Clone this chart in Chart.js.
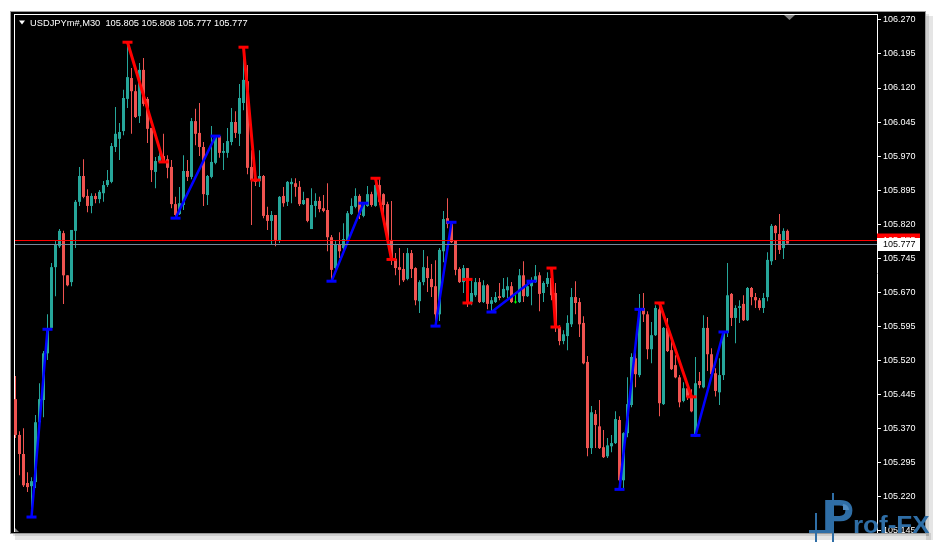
<!DOCTYPE html>
<html><head><meta charset="utf-8">
<script src="https://cdn.jsdelivr.net/npm/chart.js@4.4.1/dist/chart.umd.min.js"></script>
<style>html,body{margin:0;padding:0;background:#fff;overflow:hidden}canvas{display:block}</style>
</head><body>
<canvas id="c" width="936" height="543"></canvas>
<script>
const symbolLabel = 'USDJPYm#,M30';
const headerOHLC = [105.805, 105.808, 105.777, 105.777];

const opens = [105.434,105.355,105.313,105.249,105.242,105.251,105.383,105.432,105.535,105.591,
105.725,105.771,105.800,105.707,105.692,105.805,105.869,105.926,105.882,105.860,
105.882,105.875,105.888,105.906,105.913,105.990,106.008,106.025,106.096,106.142,
106.113,106.058,106.160,106.096,106.032,105.935,105.957,105.970,105.963,105.946,
105.864,105.842,105.862,105.937,105.924,106.047,106.021,105.990,105.884,105.924,
105.955,106.014,105.977,105.977,106.001,106.045,106.019,106.087,106.135,105.946,
105.919,105.915,105.926,105.840,105.827,105.840,105.783,105.882,105.869,105.908,
105.910,105.902,105.864,105.877,105.809,105.860,105.871,105.855,105.851,105.791,
105.723,105.774,105.767,105.783,105.842,105.858,105.882,105.838,105.860,105.886,
105.860,105.906,105.886,105.864,105.785,105.743,105.725,105.721,105.699,105.756,
105.723,105.650,105.692,105.723,105.699,105.683,105.621,105.760,105.833,105.820,
105.783,105.721,105.692,105.723,105.648,105.663,105.692,105.648,105.685,105.644,
105.648,105.661,105.659,105.674,105.683,105.647,105.648,105.707,105.661,105.683,
105.692,105.707,105.668,105.688,105.701,105.668,105.593,105.562,105.573,105.599,
105.659,105.648,105.602,105.516,105.326,105.401,105.374,105.328,105.308,105.330,
105.337,105.388,105.255,105.359,105.421,105.524,105.487,105.635,105.621,105.544,
105.575,105.632,105.423,105.591,105.542,105.509,105.482,105.430,105.458,105.440,
105.352,105.474,105.460,105.591,105.533,105.491,105.449,105.487,105.580,105.666,
105.613,105.635,105.644,105.608,105.679,105.659,105.652,105.635,105.659,105.738,
105.816,105.798,105.767,105.805];
const highs = [105.485,105.363,105.370,105.273,105.262,105.399,105.469,105.540,105.621,105.734,
105.785,105.809,105.805,105.707,105.807,105.873,105.946,105.963,105.897,105.888,
105.888,105.895,105.915,105.939,105.999,106.078,106.043,106.116,106.221,106.164,
106.127,106.175,106.186,106.100,106.032,105.968,105.988,106.019,105.972,105.961,
105.880,105.902,105.972,105.961,106.054,106.074,106.087,106.001,105.928,106.036,
106.016,106.014,105.999,106.032,106.076,106.069,106.129,106.210,106.171,105.983,
105.928,105.983,105.928,105.858,105.849,105.840,105.882,105.902,105.915,105.921,
105.921,105.915,105.891,105.877,105.899,105.888,105.880,105.884,105.910,105.796,
105.783,105.802,105.822,105.849,105.877,105.899,105.886,105.866,105.904,105.891,
105.921,105.919,105.888,105.869,105.871,105.756,105.767,105.756,105.767,105.763,
105.725,105.696,105.763,105.749,105.732,105.740,105.767,105.849,105.877,105.824,
105.785,105.725,105.730,105.723,105.696,105.701,105.701,105.696,105.688,105.659,
105.670,105.690,105.701,105.703,105.692,105.670,105.721,105.738,105.692,105.703,
105.730,105.714,105.694,105.714,105.723,105.690,105.597,105.586,105.619,105.679,
105.694,105.657,105.617,105.529,105.419,105.410,105.432,105.366,105.348,105.355,
105.407,105.396,105.361,105.482,105.535,105.538,105.666,105.668,105.628,105.604,
105.641,105.646,105.593,105.613,105.575,105.531,105.487,105.471,105.471,105.456,
105.527,105.494,105.619,105.615,105.546,105.502,105.524,105.582,105.734,105.668,
105.641,105.652,105.663,105.681,105.681,105.668,105.657,105.668,105.758,105.820,
105.818,105.842,105.811,105.808];
const lows = [105.348,105.266,105.240,105.229,105.174,105.238,105.379,105.394,105.520,105.588,
105.661,105.767,105.644,105.683,105.683,105.767,105.860,105.877,105.846,105.844,
105.866,105.866,105.869,105.902,105.910,105.979,105.961,106.016,106.076,106.019,
106.054,106.043,106.080,105.999,105.913,105.899,105.955,105.955,105.921,105.855,
105.833,105.840,105.851,105.915,105.919,105.994,105.970,105.860,105.862,105.921,
105.952,105.966,105.939,105.966,105.994,106.010,105.992,106.071,105.930,105.818,
105.904,105.902,105.833,105.807,105.776,105.771,105.778,105.858,105.860,105.866,
105.880,105.860,105.862,105.824,105.809,105.835,105.846,105.846,105.760,105.694,
105.716,105.745,105.763,105.778,105.840,105.855,105.831,105.835,105.858,105.858,
105.858,105.862,105.840,105.774,105.730,105.707,105.685,105.692,105.696,105.701,
105.641,105.624,105.685,105.670,105.659,105.595,105.606,105.736,105.811,105.778,
105.707,105.690,105.668,105.637,105.641,105.659,105.646,105.646,105.632,105.626,
105.646,105.652,105.657,105.657,105.646,105.645,105.646,105.648,105.659,105.641,
105.690,105.628,105.648,105.681,105.652,105.582,105.553,105.555,105.542,105.593,
105.621,105.571,105.511,105.308,105.313,105.326,105.324,105.304,105.304,105.317,
105.335,105.235,105.238,105.350,105.416,105.460,105.482,105.604,105.522,105.513,
105.573,105.396,105.421,105.538,105.498,105.480,105.416,105.427,105.432,105.405,
105.352,105.458,105.458,105.496,105.487,105.440,105.421,105.476,105.571,105.595,
105.557,105.602,105.606,105.606,105.641,105.635,105.630,105.624,105.650,105.730,
105.741,105.754,105.743,105.777];
const closes = [105.355,105.313,105.244,105.240,105.253,105.383,105.434,105.535,105.588,105.725,
105.774,105.805,105.707,105.685,105.807,105.869,105.926,105.880,105.860,105.882,
105.875,105.891,105.906,105.917,105.992,106.019,106.023,106.098,106.144,106.113,
106.056,106.160,106.085,106.030,105.939,105.959,105.970,105.957,105.944,105.864,
105.840,105.866,105.937,105.924,106.047,106.019,105.990,105.886,105.926,105.957,
106.012,105.977,105.981,106.003,106.045,106.021,106.098,106.138,105.944,105.917,
105.913,105.926,105.838,105.827,105.840,105.785,105.880,105.866,105.913,105.913,
105.902,105.864,105.873,105.827,105.862,105.871,105.853,105.849,105.791,105.719,
105.774,105.760,105.787,105.844,105.860,105.882,105.840,105.864,105.886,105.862,
105.906,105.869,105.862,105.785,105.743,105.723,105.719,105.696,105.756,105.721,
105.652,105.692,105.725,105.701,105.681,105.621,105.763,105.831,105.820,105.780,
105.719,105.692,105.723,105.646,105.668,105.692,105.648,105.685,105.644,105.652,
105.659,105.657,105.677,105.683,105.648,105.647,105.707,105.661,105.683,105.694,
105.705,105.666,105.690,105.701,105.663,105.593,105.562,105.577,105.602,105.659,
105.646,105.599,105.513,105.326,105.405,105.377,105.326,105.306,105.332,105.337,
105.390,105.255,105.359,105.423,105.527,105.489,105.632,105.621,105.544,105.575,
105.635,105.425,105.591,105.540,105.500,105.482,105.427,105.458,105.438,105.407,
105.469,105.465,105.591,105.533,105.489,105.452,105.487,105.580,105.663,105.613,
105.635,105.639,105.608,105.679,105.659,105.652,105.635,105.657,105.741,105.816,
105.800,105.763,105.805,105.777];

const tickValues = [105.145,105.220,105.295,105.370,105.445,105.520,105.595,105.670,105.745,105.820,105.895,105.970,106.045,106.120,106.195,106.270];
const bidPrice = 105.777;
const askPrice = 105.785;

// swing legs: [startIndex, startPrice, endIndex, endPrice]
const upLegs = [[4,105.174,8,105.588],[40,105.833,50,106.014],[79,105.694,87,105.866],[105,105.595,109,105.824],[119,105.626,129,105.694],[151,105.235,156,105.632],[170,105.354,177,105.582]];
const downLegs = [[28,106.221,37,105.957],[57,106.210,60,105.917],[90,105.921,94,105.742],[113,105.698,113,105.646],[134,105.723,135,105.593],[161,105.646,169,105.439]];

const BULL = '#26a69a', BEAR = '#ef5350', DOJI = '#00ff00';
const idx = opens.map((_, i) => i);
const candleColors = idx.map(i => closes[i] > opens[i] ? BULL : (closes[i] < opens[i] ? BEAR : DOJI));

function legPoints(legs) {
  const pts = [];
  legs.forEach(l => { pts.push({x: l[0], y: l[1]}, {x: l[2], y: l[3]}, {x: l[2], y: null}); });
  return pts;
}

const FONT = '"Liberation Sans", Tahoma, Arial, sans-serif';

const framePlugin = {
  id: 'frame',
  beforeDraw(chart) {
    const ctx = chart.ctx;
    ctx.save();
    ctx.fillStyle = '#ffffff';
    ctx.fillRect(0, 0, 936, 543);
    ctx.fillStyle = 'rgba(0,0,0,0.10)';
    ctx.fillRect(15, 533, 916, 7);
    ctx.fillRect(926, 16, 7, 524);
    ctx.fillStyle = 'rgba(0,0,0,0.10)';
    ctx.fillRect(13, 533, 916, 3);
    ctx.fillRect(926, 14, 3, 522);
    ctx.fillStyle = '#9a9a9a';
    ctx.fillRect(10, 11, 916, 523);
    ctx.fillStyle = '#000000';
    ctx.fillRect(11, 12, 914, 521);
    const a = chart.chartArea;
    ctx.fillStyle = '#ffffff';
    ctx.fillRect(a.left, a.top, a.right - a.left, 1);
    ctx.fillRect(a.left, a.top, 1, a.bottom - a.top);
    ctx.restore();
  },
  afterDraw(chart) {
    const ctx = chart.ctx;
    const y = chart.scales.y;
    const a = chart.chartArea;
    ctx.save();
    const ya = Math.round(y.getPixelForValue(askPrice));
    const yb = Math.round(y.getPixelForValue(bidPrice));
    ctx.fillStyle = '#ff0000';
    ctx.fillRect(a.left + 1, ya, a.right - a.left - 1, 1);
    ctx.fillStyle = '#778899';
    ctx.fillRect(a.left + 1, yb, a.right - a.left - 1, 1);
    ctx.font = '9px ' + FONT;
    ctx.textBaseline = 'middle';
    ctx.fillStyle = '#ff0000';
    ctx.fillRect(a.right, ya - 6.5, 43, 13);
    ctx.fillStyle = '#ffffff';
    ctx.fillText(askPrice.toFixed(3), a.right + 6, ya + 0.5);
    ctx.fillStyle = '#ffffff';
    ctx.fillRect(a.right, yb - 6, 43, 13);
    ctx.fillStyle = '#000000';
    ctx.fillText(bidPrice.toFixed(3), a.right + 6, yb + 0.5);
    ctx.fillStyle = '#ffffff';
    ctx.beginPath();
    ctx.moveTo(19, 20.5); ctx.lineTo(25, 20.5); ctx.lineTo(22, 24.5); ctx.closePath(); ctx.fill();
    ctx.font = '9.3px ' + FONT;
    ctx.textBaseline = 'alphabetic';
    ctx.fillText(symbolLabel + '  ' + headerOHLC.map(v => v.toFixed(3)).join(' '), 30, 26);
    ctx.fillStyle = '#808080';
    ctx.beginPath();
    ctx.moveTo(784, a.top + 1); ctx.lineTo(795, a.top + 1); ctx.lineTo(789.5, a.top + 6); ctx.closePath(); ctx.fill();
    ctx.beginPath();
    ctx.moveTo(a.left + 1, a.bottom - 4); ctx.lineTo(a.left + 1, a.bottom); ctx.lineTo(a.left + 5, a.bottom); ctx.closePath(); ctx.fill();
    // watermark logo
    ctx.fillStyle = '#2f6ea6';
    ctx.fillRect(815, 513, 2, 29);
    ctx.fillRect(832, 493, 2, 49);
    ctx.fillRect(809, 530, 20, 3);
    ctx.font = 'bold 48px ' + FONT;
    ctx.fillText('P', 822, 533);
    ctx.fillStyle = '#4f8cc2';
    ctx.beginPath();
    ctx.arc(843, 510, 6, -Math.PI / 2, 0);
    ctx.lineTo(843, 510);
    ctx.closePath();
    ctx.fill();
    ctx.fillStyle = '#2f6ea6';
    ctx.save();
    ctx.translate(853, 533);
    ctx.scale(1.13, 1);
    ctx.font = 'bold 23px ' + FONT;
    ctx.fillText('rof-FX', 0, 0);
    ctx.restore();
    ctx.restore();
  }
};

new Chart(document.getElementById('c'), {
  type: 'bar',
  data: {
    datasets: [
      { type: 'line', label: 'up legs', data: legPoints(upLegs), borderColor: '#0000ff', backgroundColor: '#0000ff',
        borderWidth: 2.5, pointStyle: 'line', pointRadius: 5, pointBorderWidth: 3, pointBorderColor: '#0000ff', spanGaps: false, order: 0 },
      { type: 'line', label: 'down legs', data: legPoints(downLegs), borderColor: '#ff0000', backgroundColor: '#ff0000',
        borderWidth: 3, pointStyle: 'line', pointRadius: 5, pointBorderWidth: 3, pointBorderColor: '#ff0000', spanGaps: false, order: 0 },
      { label: 'bodies', data: idx.map(i => ({x: i, y: [opens[i], closes[i]]})), backgroundColor: candleColors,
        barThickness: 3, minBarLength: 1, grouped: false, borderWidth: 0, inflateAmount: 0, order: 1 },
      { label: 'wicks', data: idx.map(i => ({x: i, y: [lows[i], highs[i]]})), backgroundColor: candleColors,
        barThickness: 1, grouped: false, borderWidth: 0, inflateAmount: 0, order: 2 }
    ]
  },
  options: {
    responsive: false,
    animation: false,
    events: [],
    layout: { padding: { left: 14, top: 14, right: 12, bottom: 11 } },
    plugins: { legend: { display: false }, tooltip: { enabled: false } },
    scales: {
      x: { type: 'linear', min: -0.375, max: 215.375, display: false, offset: false },
      y: {
        type: 'linear', position: 'right', min: 105.141, max: 106.2832, beginAtZero: false,
        afterBuildTicks: s => { s.ticks = tickValues.map(v => ({ value: v })); },
        afterFit: s => { s.width = 47; },
        ticks: { color: '#ffffff', font: { family: FONT, size: 9 }, padding: 2, autoSkip: false, maxRotation: 0,
                 callback: v => Number(v).toFixed(3) },
        grid: { drawOnChartArea: false, drawTicks: true, tickLength: 4, color: '#ffffff' },
        border: { display: true, color: '#ffffff', width: 1 }
      }
    }
  },
  plugins: [framePlugin]
});
</script>
</body></html>
